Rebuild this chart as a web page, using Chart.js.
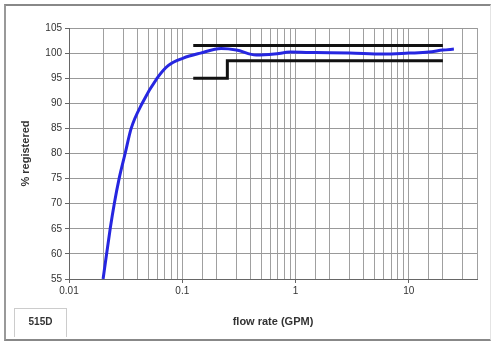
<!DOCTYPE html>
<html>
<head>
<meta charset="utf-8">
<script src="https://cdn.jsdelivr.net/npm/chart.js@4"></script>
<style>
    body { margin: 0; background: #fff; }
    #wrap { position: relative; width: 497px; height: 343px; }
    #frame {
        position: absolute; left: 4px; top: 4px; width: 484px; height: 333px;
        border-top: 2px solid #888; border-left: 2px solid #999;
        border-bottom: 2px solid #888; border-right: 1px solid #e4e4e4;
    }
    #tag {
        position: absolute; left: 14px; top: 308px; width: 51px; height: 28px;
        border: 1px solid #ccc; border-bottom: none;
        font: bold 10px "Liberation Sans", Arial, sans-serif; color: #333;
        line-height: 26px; text-align: center;
    }
    canvas { position: absolute; left: 0; top: 0; }
</style>
</head>
<body>
<div id="wrap">
    <div id="frame"></div>
    <canvas id="chart" width="497" height="343"></canvas>
    <div id="tag">515D</div>
</div>
<script>
// measured curve (flow in GPM, % registered)
const flowMeasured = [0.02, 0.0231, 0.0251, 0.0277, 0.0313, 0.0354, 0.0443, 0.060, 0.075, 0.102, 0.145, 0.22, 0.30, 0.45, 0.65, 0.9, 1.5, 3, 6, 10, 15, 20, 25];
const pctMeasured = [55, 65, 70, 75, 80, 85, 90, 95, 97.5, 99, 100, 100.9, 100.6, 99.6, 99.8, 100.2, 100.1, 100, 99.8, 100, 100.2, 100.6, 100.8];

// accuracy limits
const flowUpper = [0.125, 20];
const pctUpper = [101.5, 101.5];
const flowLower = [0.125, 0.25, 0.25, 20];
const pctLower = [95, 95, 98.5, 98.5];

const decadeLabels = [0.01, 0.1, 1, 10];
const yTicks = [55, 60, 65, 70, 75, 80, 85, 90, 95, 100, 105];

const toPts = (xs, ys) => xs.map((x, i) => ({ x: x, y: ys[i] }));
const isDecade = v => decadeLabels.some(d => Math.abs(v - d) / d < 1e-6);

new Chart(document.getElementById('chart'), {
    type: 'line',
    data: {
        datasets: [
            {
                data: toPts(flowMeasured, pctMeasured),
                borderColor: '#2626e0',
                borderWidth: 3,
                pointRadius: 0,
                cubicInterpolationMode: 'monotone',
                order: 0
            },
            {
                data: toPts(flowUpper, pctUpper),
                borderColor: '#111',
                borderWidth: 3,
                pointRadius: 0,
                order: 1
            },
            {
                data: toPts(flowLower, pctLower),
                borderColor: '#111',
                borderWidth: 3,
                pointRadius: 0,
                order: 1
            }
        ]
    },
    options: {
        responsive: false,
        animation: false,
        events: [],
        layout: { padding: { left: 15, right: 20, top: 28, bottom: 0 } },
        plugins: { legend: { display: false }, tooltip: { enabled: false } },
        scales: {
            x: {
                type: 'logarithmic',
                min: 0.01,
                max: 40,
                afterFit: s => { s.height = 64; },
                border: { color: '#666', width: 1 },
                grid: {
                    color: '#a0a0a0',
                    tickLength: 4,
                    tickColor: ctx => isDecade(ctx.tick.value) ? '#666' : 'rgba(0,0,0,0)'
                },
                ticks: {
                    autoSkip: false,
                    maxRotation: 0,
                    padding: 2,
                    color: '#333',
                    font: { family: 'Liberation Sans', size: 10 },
                    callback: v => isDecade(v) ? String(v) : ''
                },
                title: {
                    display: true,
                    text: 'flow rate (GPM)',
                    color: '#333',
                    font: { family: 'Liberation Sans', size: 11, weight: 'bold' },
                    padding: { top: 4, bottom: 14 }
                }
            },
            y: {
                min: 55,
                max: 105,
                afterFit: s => { s.width = 54; },
                afterBuildTicks: s => { s.ticks = yTicks.map(v => ({ value: v })); },
                border: { color: '#666', width: 1 },
                grid: { color: '#999', tickLength: 4, tickColor: '#666' },
                ticks: {
                    padding: 3,
                    color: '#333',
                    font: { family: 'Liberation Sans', size: 10 }
                },
                title: {
                    display: true,
                    text: '% registered',
                    color: '#333',
                    font: { family: 'Liberation Sans', size: 11, weight: 'bold' },
                    padding: { bottom: 4 }
                }
            }
        }
    }
});
</script>
</body>
</html>
